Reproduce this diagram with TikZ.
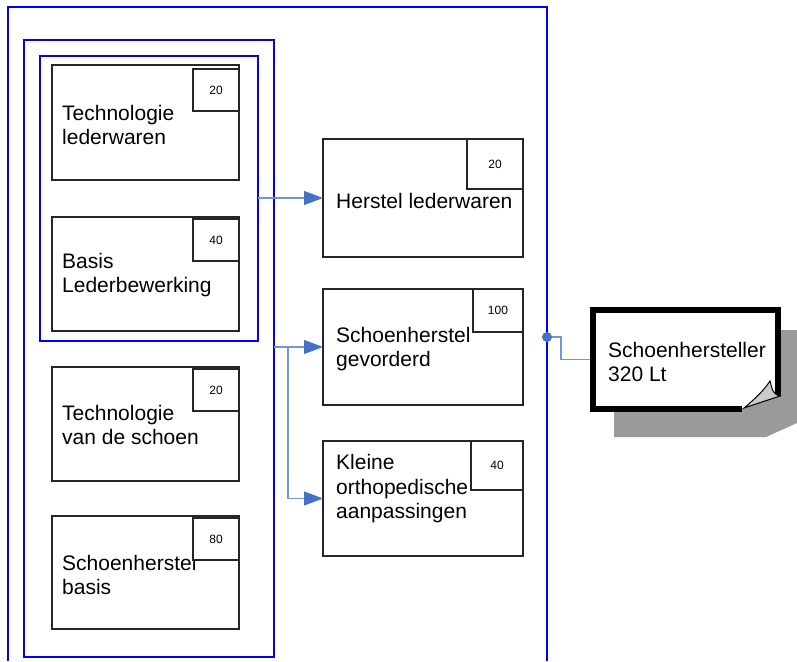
\documentclass[tikz,border=0pt]{standalone}
\usepackage{fontspec}
\setmainfont{Liberation Sans}
\usetikzlibrary{arrows.meta,calc}
\definecolor{bluebox}{HTML}{0000FF}
\definecolor{arrowc}{HTML}{4472C4}
\definecolor{linec}{HTML}{7096D6}
\definecolor{shadowc}{HTML}{9A9A9A}
\definecolor{foldc}{HTML}{CBCBCB}
\begin{document}
\begin{tikzpicture}[x=1pt,y=-1pt,
  grp/.style={draw=bluebox, line width=1.8pt, anchor=north west, inner sep=0pt, outer sep=0pt},
  blk/.style={draw=black!85, line width=1.4pt, fill=white, anchor=north west, inner sep=0pt, outer sep=0pt},
  num/.style={draw=black!85, line width=1.4pt, fill=white, anchor=north east, inner sep=0pt, outer sep=0pt, font=\fontsize{12}{14}\selectfont},
  lbl/.style={anchor=west, align=left, inner sep=0pt, font=\fontsize{21}{24.5}\selectfont},
  conn/.style={draw=linec, line width=1.1pt, -{Triangle[length=19pt,width=14pt,color=arrowc]}},
  plain/.style={draw=linec, line width=1.1pt}
]
\useasboundingbox (0,0) rectangle (797,661);

% outer group (open at the bottom)
\draw[draw=bluebox, line width=1.8pt] (8,661) -- (8,7) -- (547,7) -- (547,661);
\coordinate (dot) at (547,337);
\node[grp, minimum width=250pt, minimum height=617pt] (mid) at (24,40) {};
\node[grp, minimum width=218pt, minimum height=285pt] (inner) at (40,56) {};

% left boxes
\node[blk, minimum width=187pt, minimum height=115pt] (b1) at (52,65) {};
\node[lbl] (t1) at (62,125) {Technologie\\lederwaren};
\node[num, minimum width=46pt, minimum height=42pt] (n1) at (239,69) {20};

\node[blk, minimum width=187pt, minimum height=114pt] (b2) at (52,217) {};
\node[lbl] (t2) at (62,275) {Basis\\Lederbewerking};
\node[num, minimum width=46pt, minimum height=42pt] (n2) at (239,219) {40};

\node[blk, minimum width=187pt, minimum height=114pt] (b3) at (52,367) {};
\node[lbl] (t3) at (62,425) {Technologie\\van de schoen};
\node[num, minimum width=46pt, minimum height=42pt] (n3) at (239,369) {20};

\node[blk, minimum width=187pt, minimum height=113pt] (b4) at (52,516) {};
\node[lbl] (t4) at (62,575) {Schoenherstel\\basis};
\node[num, minimum width=46pt, minimum height=42pt] (n4) at (239,518) {80};

% right boxes
\node[blk, minimum width=200pt, minimum height=118pt] (r1) at (323,139) {};
\node[lbl] (s1) at (336,200.5) {Herstel lederwaren};
\node[num, minimum width=56pt, minimum height=50pt] (m1) at (523,139) {20};

\node[blk, minimum width=200pt, minimum height=116pt] (r2) at (323,289) {};
\node[lbl] (s2) at (336,349) {Schoenherstel\\gevorderd};
\node[num, minimum width=50pt, minimum height=43pt] (m2) at (523,289) {100};

\node[blk, minimum width=200pt, minimum height=115pt] (r3) at (323,441) {};
\node[lbl] (s3) at (336,489) {Kleine\\orthopedische\\aanpassingen};
\node[num, minimum width=52pt, minimum height=49pt] (m3) at (523,441) {40};

% connectors
\draw[conn] (inner.east |- r1.west) -- (r1.west);
\draw[conn] (mid.east |- r2.west) -- (r2.west);
\coordinate (br) at (288,347);
\draw[conn] (br) |- (r3.west);

% note with shadow
\fill[shadowc] (614,330) -- (797,330) -- (797,423) -- (766,437) -- (614,437) -- cycle;
\fill[white] (593,310) -- (778,310) -- (778,396) -- (742,409) -- (593,409) -- cycle;
\draw[line width=6pt, line join=miter] (742,409) -- (593,409) -- (593,310) -- (778,310) -- (778,396);
\fill[foldc, draw=black, line width=1pt] (744,408) .. controls (756,398) and (764,390) .. (770,381) .. controls (772,388) and (772,394) .. (780,396) -- cycle;
\node[minimum width=191pt, minimum height=99pt, inner sep=0pt] (note) at (685.5,359.5) {};
\node[lbl] (nt) at (608,362) {Schoenhersteller\\320 Lt};

\draw[plain] (dot) -- (561,337) |- (note.west);
\fill[arrowc] (dot) circle (5pt);
\end{tikzpicture}
\end{document}
